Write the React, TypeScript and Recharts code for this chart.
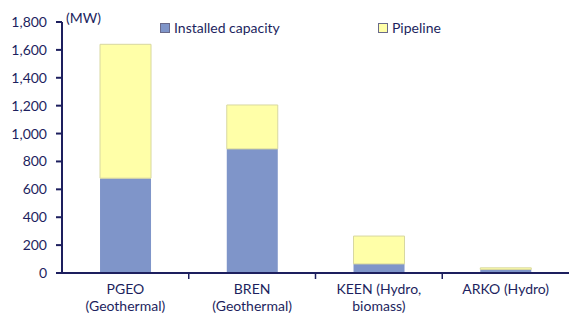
import { Bar, BarChart, XAxis, YAxis } from 'recharts'

const companies = ['PGEO|(Geothermal)', 'BREN|(Geothermal)', 'KEEN (Hydro,|biomass)', 'ARKO (Hydro)']
const installed = [680, 890, 65, 25]
const pipeline = [960, 315, 200, 12]
const yTicks = [0, 200, 400, 600, 800, 1000, 1200, 1400, 1600, 1800]

const data = companies.map((name, i) => ({
  name,
  installed: installed[i],
  pipeline: pipeline[i],
}))

const ink = '#1d1f5e'
const font = 'Lato, "Open Sans", sans-serif'
const band = (569 - 62) / companies.length

function CategoryTick(props: any) {
  const { x, y, payload, index } = props
  const lines = String(payload.value).split('|')
  return (
    <g>
      {index < companies.length - 1 && (
        <line x1={x + band / 2} x2={x + band / 2} y1={y - 8} y2={y - 2} stroke={ink} strokeWidth={1.5} />
      )}
      <text x={x} y={y + 13} textAnchor="middle" fill={ink} fontSize={14} fontFamily={font}>
        {lines.map((l, i) => (
          <tspan key={i} x={x} dy={i === 0 ? 0 : 17}>
            {l}
          </tspan>
        ))}
      </text>
    </g>
  )
}

function LegendItem({ label, color, left }: { label: string; color: string; left: number }) {
  return (
    <div
      style={{
        position: 'absolute',
        left,
        top: 19,
        display: 'flex',
        alignItems: 'center',
        whiteSpace: 'nowrap',
        fontFamily: font,
        fontSize: 14,
        color: ink,
      }}
    >
      <span style={{ width: 8, height: 8, background: color, border: '1px solid #6a6a8a', marginRight: 4 }} />
      <span>{label}</span>
    </div>
  )
}

export default function App() {
  return (
    <div style={{ position: 'absolute', left: 0, top: 0, width: 569, height: 313, background: '#fff', overflow: 'hidden' }}>
      <BarChart
        width={569}
        height={313}
        data={data}
        margin={{ top: 22, right: 0, bottom: 0, left: 0 }}
        barCategoryGap="30%"
      >
        <XAxis
          dataKey="name"
          interval={0}
          height={40}
          stroke={ink}
          strokeWidth={2}
          tickLine={false}
          tick={<CategoryTick />}
        />
        <YAxis
          width={62}
          domain={[0, 1800]}
          ticks={yTicks}
          interval={0}
          stroke={ink}
          strokeWidth={2}
          tickSize={6}
          tickMargin={9}
          tick={{ fill: ink, fontSize: 14, fontFamily: font }}
          tickFormatter={(v: number) => v.toLocaleString('en-US')}
        />
        <Bar dataKey="installed" name="Installed capacity" stackId="a" fill="#7f95c9" isAnimationActive={false} />
        <Bar
          dataKey="pipeline"
          name="Pipeline"
          stackId="a"
          fill="#ffffa8"
          stroke="#d8d8a0"
          strokeWidth={1}
          isAnimationActive={false}
        />
      </BarChart>
      <LegendItem label="Installed capacity" color="#7f95c9" left={160} />
      <LegendItem label="Pipeline" color="#ffffa8" left={378} />
      <div style={{ position: 'absolute', left: 66, top: 9, fontFamily: font, fontSize: 14, color: ink }}>(MW)</div>
    </div>
  )
}
